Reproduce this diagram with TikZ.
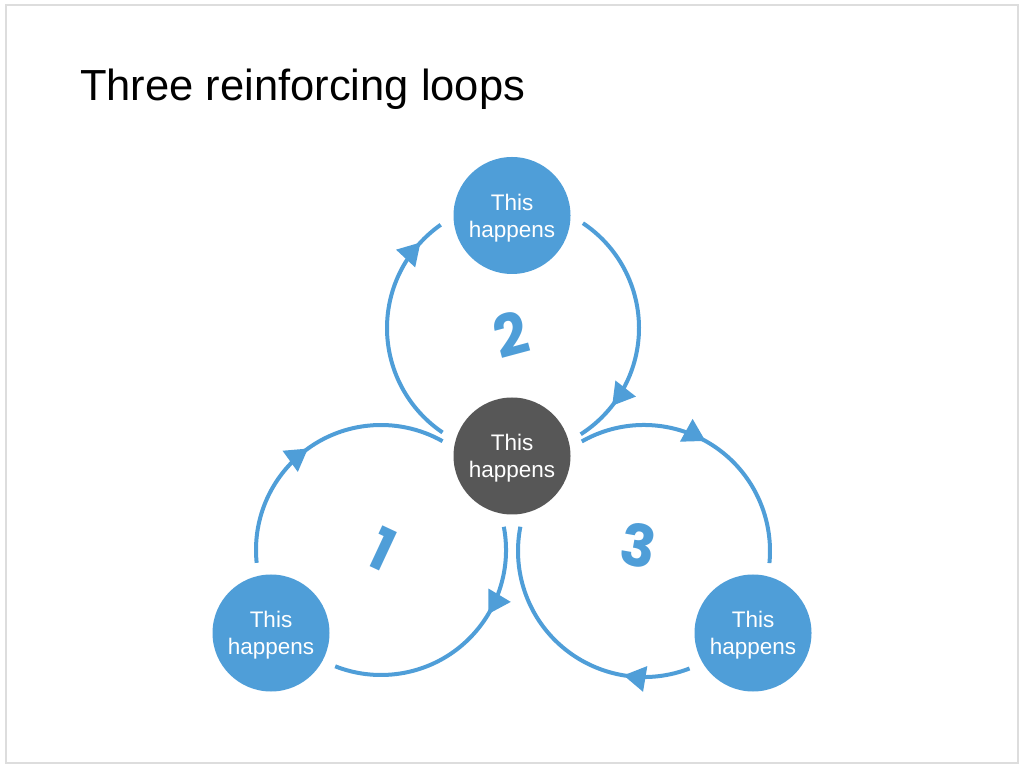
\documentclass[tikz,border=0pt]{standalone}
\usepackage{fontspec}
\setmainfont{Liberation Sans}
\newfontfamily\digitfont{Poppins}
\usetikzlibrary{arrows.meta,decorations.markings}
\definecolor{loopblue}{RGB}{79,158,216}
\definecolor{hubgray}{RGB}{87,87,87}
\definecolor{framegray}{RGB}{221,221,221}
\begin{document}
\begin{tikzpicture}[x=1pt,y=1pt,
  event/.style={circle, fill=loopblue, minimum size=117pt, inner sep=0pt, text=white, align=center, font=\fontsize{22.5}{27}\selectfont},
  hub/.style={event, fill=hubgray},
  loopline/.style={color=loopblue, line width=4pt},
  mid arrow/.style={postaction={decorate}, decoration={markings, mark=at position #1 with {\arrow{Triangle[length=22pt,width=25pt]}}}},
  looplabel/.style={text=loopblue, font=\digitfont\bfseries\fontsize{58}{58}\selectfont, inner sep=0pt}]
\useasboundingbox (0,0) rectangle (1024,768);
\draw[framegray, line width=2pt] (6,5) rectangle (1018,763);
\node[anchor=base west, inner sep=0pt, font=\fontsize{43.5}{50}\selectfont] (title) at (80,667) {Three reinforcing loops};
% nodes
\node[event] (top) at (512,552.5) {\rule{0pt}{21pt}This\\happens};
\node[hub] (hub) at (512,312) {\rule{0pt}{21pt}This\\happens};
\node[event] (bl) at (271,135) {\rule{0pt}{21pt}This\\happens};
\node[event] (br) at (753,135) {\rule{0pt}{21pt}This\\happens};
% loop centres
\coordinate (L1) at (381,218);
\coordinate (L2) at (513,440);
\coordinate (L3) at (644,217);
% loop 1
\draw[loopline, mid arrow=0.48] (L1) ++(185.9:125) arc[start angle=185.9, end angle=60.5, radius=125];
\draw[loopline, mid arrow=0.34] (L1) ++(10.7:125) arc[start angle=10.7, end angle=-111.5, radius=125];
% loop 2
\draw[loopline, mid arrow=0.89] (L2) ++(236:126) arc[start angle=236, end angle=125, radius=126];
\draw[loopline, mid arrow=0.83] (L2) ++(56.3:126) arc[start angle=56.3, end angle=-57.5, radius=126];
% loop 3
\draw[loopline, mid arrow=0.47] (L3) ++(119.6:126) arc[start angle=119.6, end angle=-5.5, radius=126];
\draw[loopline, mid arrow=0.25] (L3) ++(291.2:126) arc[start angle=291.2, end angle=168.9, radius=126];
% loop numbers
\node[looplabel, rotate=-25] (n1) at (382,219) {1};
\node[looplabel, rotate=15] (n2) at (511,434) {2};
\node[looplabel, rotate=-10] (n3) at (638,223) {3};
\end{tikzpicture}
\end{document}
